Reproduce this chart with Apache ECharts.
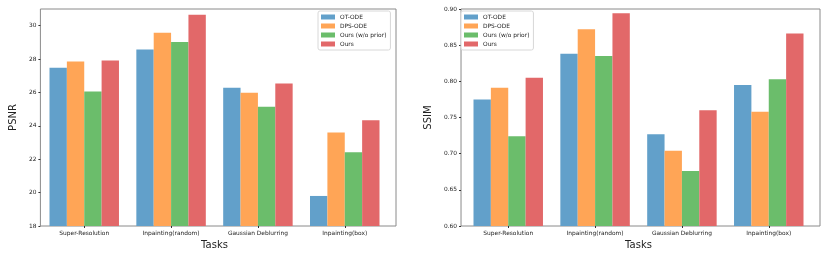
<!DOCTYPE html>
<html>
<head>
<meta charset="utf-8">
<script src="https://cdn.jsdelivr.net/npm/echarts@6/dist/echarts.min.js"></script>
<style>
html,body{margin:0;padding:0;background:#fff;}
#wrap{position:relative;width:830px;height:257px;}
#c1{position:absolute;left:0;top:0;width:415px;height:257px;}
#c2{position:absolute;left:415px;top:0;width:415px;height:257px;}
</style>
</head>
<body>
<div id="wrap"><div id="c1"></div><div id="c2"></div></div>
<script>
const tasks = ['Super-Resolution', 'Inpainting(random)', 'Gaussian Deblurring', 'Inpainting(box)'];
const methods = ['OT-ODE', 'DPS-ODE', 'Ours (w/o prior)', 'Ours'];
const colors = ['#62a0ca', '#ffa556', '#6bbd6b', '#e26869'];

const psnrOTODE   = [27.48, 28.58, 26.28, 19.80];
const psnrDPSODE  = [27.86, 29.58, 25.98, 23.60];
const psnrOursWo  = [26.06, 29.02, 25.14, 22.42];
const psnrOurs    = [27.92, 30.66, 26.54, 24.34];

const ssimOTODE   = [0.775, 0.838, 0.727, 0.795];
const ssimDPSODE  = [0.791, 0.872, 0.704, 0.758];
const ssimOursWo  = [0.724, 0.835, 0.676, 0.803];
const ssimOurs    = [0.805, 0.894, 0.760, 0.866];

const psnrTicks = [18, 20, 22, 24, 26, 28, 30];
const ssimTicks = [0.60, 0.65, 0.70, 0.75, 0.80, 0.85, 0.90];

const font = 'DejaVu Sans';

function build(cfg) {
  const unit = cfg.width / 4.18;
  const innerLeft = cfg.left + 0.09 * unit;
  const innerWidth = 4 * unit;
  return {
    animation: false,
    textStyle: { fontFamily: font },
    legend: {
      orient: 'vertical',
      left: cfg.legendLeft, top: 11,
      padding: [3, 4, 3, 3],
      itemWidth: 14, itemHeight: 5, itemGap: 3,
      icon: 'rect',
      backgroundColor: '#fff',
      borderColor: '#d8d8d8', borderWidth: 1, borderRadius: 2,
      textStyle: { fontSize: 5.9, color: '#222', fontFamily: font, padding: [0, 0, 0, 0] },
      data: methods
    },
    grid: [
      { left: cfg.left, top: 9, width: cfg.width, height: 217, show: true, borderColor: '#8a8a8a', borderWidth: 1, backgroundColor: 'transparent' },
      { left: innerLeft, top: 9, width: innerWidth, height: 217 }
    ],
    xAxis: [
      { type: 'category', gridIndex: 0, data: tasks, show: false },
      {
        type: 'category', gridIndex: 1, data: tasks,
        axisLine: { show: false },
        axisTick: { show: true, alignWithLabel: true, length: 2, lineStyle: { color: '#333' } },
        axisLabel: { fontSize: 5.9, color: '#222', margin: 4, fontFamily: font },
        name: 'Tasks', nameLocation: 'middle', nameGap: 14,
        nameTextStyle: { fontSize: 10, color: '#222', fontFamily: font }
      }
    ],
    yAxis: [
      {
        type: 'value', gridIndex: 0, min: cfg.min, max: cfg.max,
        splitLine: { show: false },
        axisLine: { show: false },
        axisTick: { show: true, length: 2, lineStyle: { color: '#333' }, customValues: cfg.ticks },
        axisLabel: { fontSize: 5.9, color: '#222', margin: 4, fontFamily: font, customValues: cfg.ticks, formatter: cfg.fmt },
        name: cfg.yname, nameLocation: 'middle', nameGap: cfg.nameGap, nameRotate: 90,
        nameTextStyle: { fontSize: 10, color: '#222', fontFamily: font }
      },
      { type: 'value', gridIndex: 1, min: cfg.min, max: cfg.max, show: false, splitLine: { show: false } }
    ],
    series: cfg.data.map((d, i) => ({
      name: methods[i], type: 'bar', xAxisIndex: 1, yAxisIndex: 1,
      data: d, barWidth: '20%', barGap: '0%',
      itemStyle: { color: colors[i] }
    }))
  };
}

const c1 = echarts.init(document.getElementById('c1'), null, { renderer: 'canvas' });
c1.setOption(build({
  left: 33, width: 363, min: 18, max: 31, ticks: psnrTicks, yname: 'PSNR', nameGap: 14,
  legendLeft: 318, fmt: v => String(v),
  data: [psnrOTODE, psnrDPSODE, psnrOursWo, psnrOurs]
}));

const c2 = echarts.init(document.getElementById('c2'), null, { renderer: 'canvas' });
c2.setOption(build({
  left: 42, width: 363, min: 0.6, max: 0.9, ticks: ssimTicks, yname: 'SSIM', nameGap: 21,
  legendLeft: 46, fmt: v => Number(v).toFixed(2),
  data: [ssimOTODE, ssimDPSODE, ssimOursWo, ssimOurs]
}));
</script>
</body>
</html>
